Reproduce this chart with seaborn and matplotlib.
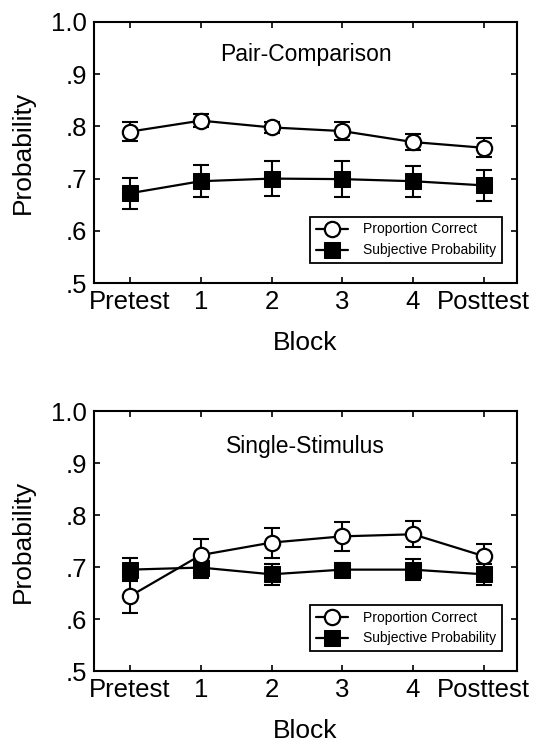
import numpy as np
import pandas as pd
import matplotlib
matplotlib.use("Agg")
import matplotlib.pyplot as plt
import seaborn as sns

blocks = ["Pretest", "1", "2", "3", "4", "Posttest"]
series_names = ["Proportion Correct", "Subjective Probability"]

# Pair-Comparison panel
pc_pair = [0.790, 0.811, 0.798, 0.791, 0.770, 0.759]
pc_pair_err = [0.018, 0.012, 0.010, 0.017, 0.015, 0.018]
sp_pair = [0.672, 0.695, 0.700, 0.699, 0.695, 0.687]
sp_pair_err = [0.030, 0.031, 0.034, 0.034, 0.030, 0.030]

# Single-Stimulus panel
pc_single = [0.644, 0.723, 0.747, 0.759, 0.763, 0.721]
pc_single_err = [0.032, 0.030, 0.029, 0.028, 0.025, 0.023]
sp_single = [0.695, 0.699, 0.686, 0.695, 0.695, 0.686]
sp_single_err = [0.022, 0.020, 0.020, 0.013, 0.020, 0.020]

panel_titles = ["Pair-Comparison", "Single-Stimulus"]
y_ticks = [0.5, 0.6, 0.7, 0.8, 0.9, 1.0]
y_tick_labels = [".5", ".6", ".7", ".8", ".9", "1.0"]

sns.set_style("ticks")
plt.rcParams["font.family"] = ["Liberation Sans", "DejaVu Sans"]
plt.rcParams["text.color"] = "black"
plt.rcParams["axes.labelcolor"] = "black"

fig = plt.figure(figsize=(5.34, 7.46), dpi=100)
ax_top = fig.add_axes([0.176, 0.6206, 0.792, 0.350])
ax_bot = fig.add_axes([0.176, 0.1005, 0.792, 0.3485])

panels = [
    (ax_top, pc_pair, pc_pair_err, sp_pair, sp_pair_err, panel_titles[0], 0.875),
    (ax_bot, pc_single, pc_single_err, sp_single, sp_single_err, panel_titles[1], 0.862),
]

for ax, pc, pce, sp, spe, title, ty in panels:
    x = np.arange(len(blocks))
    df = pd.DataFrame({
        "x": np.concatenate([x, x]),
        "value": pc + sp,
        "series": [series_names[0]] * len(x) + [series_names[1]] * len(x),
    })
    # error bars
    ax.errorbar(x, sp, yerr=spe, fmt="none", ecolor="black", elinewidth=1.5,
                capsize=6, capthick=1.5, zorder=2)
    ax.errorbar(x, pc, yerr=pce, fmt="none", ecolor="black", elinewidth=1.5,
                capsize=6, capthick=1.5, zorder=2)
    sns.lineplot(data=df[df.series == series_names[1]], x="x", y="value",
                 color="black", lw=1.6, marker="s", markersize=12,
                 markerfacecolor="black", markeredgecolor="black",
                 label=series_names[1], ax=ax, zorder=3)
    sns.lineplot(data=df[df.series == series_names[0]], x="x", y="value",
                 color="black", lw=1.6, marker="o", markersize=11,
                 markerfacecolor="white", markeredgecolor="black",
                 markeredgewidth=1.6, label=series_names[0], ax=ax, zorder=4)

    ax.set_xlim(-0.51, 5.47)
    ax.set_ylim(0.5, 1.0)
    ax.set_xticks(x)
    ax.set_xticklabels(blocks)
    ax.set_yticks(y_ticks)
    ax.set_yticklabels(y_tick_labels)
    ax.tick_params(axis="both", direction="in", length=4, width=1.2,
                   top=True, right=True, labelsize=18.5, colors="black",
                   labelcolor="black")
    ax.tick_params(axis="y", pad=5)
    ax.tick_params(axis="x", pad=5)
    for s in ax.spines.values():
        s.set_visible(True)
        s.set_linewidth(1.5)
        s.set_color("black")
    ax.set_xlabel("Block", fontsize=19, labelpad=12, color="black")
    ax.set_ylabel("Probability", fontsize=19, labelpad=12, color="black")
    ax.text(0.5, ty, title, transform=ax.transAxes, ha="center",
            va="center", fontsize=16.5, color="black")

    handles, labels = ax.get_legend_handles_labels()
    order = [labels.index(series_names[0]), labels.index(series_names[1])]
    leg = ax.legend([handles[i] for i in order], [labels[i] for i in order],
                    loc="lower right", bbox_to_anchor=(0.9645, 0.077),
                    fontsize=10, frameon=True, fancybox=False,
                    edgecolor="black", framealpha=1, borderpad=0.4,
                    handlelength=2.3, handletextpad=1.1,
                    labelspacing=0.5, borderaxespad=0)
    leg.get_frame().set_linewidth(1.3)
    for t in leg.get_texts():
        t.set_color("black")

fig.savefig("out.png", dpi=100, facecolor="white")
